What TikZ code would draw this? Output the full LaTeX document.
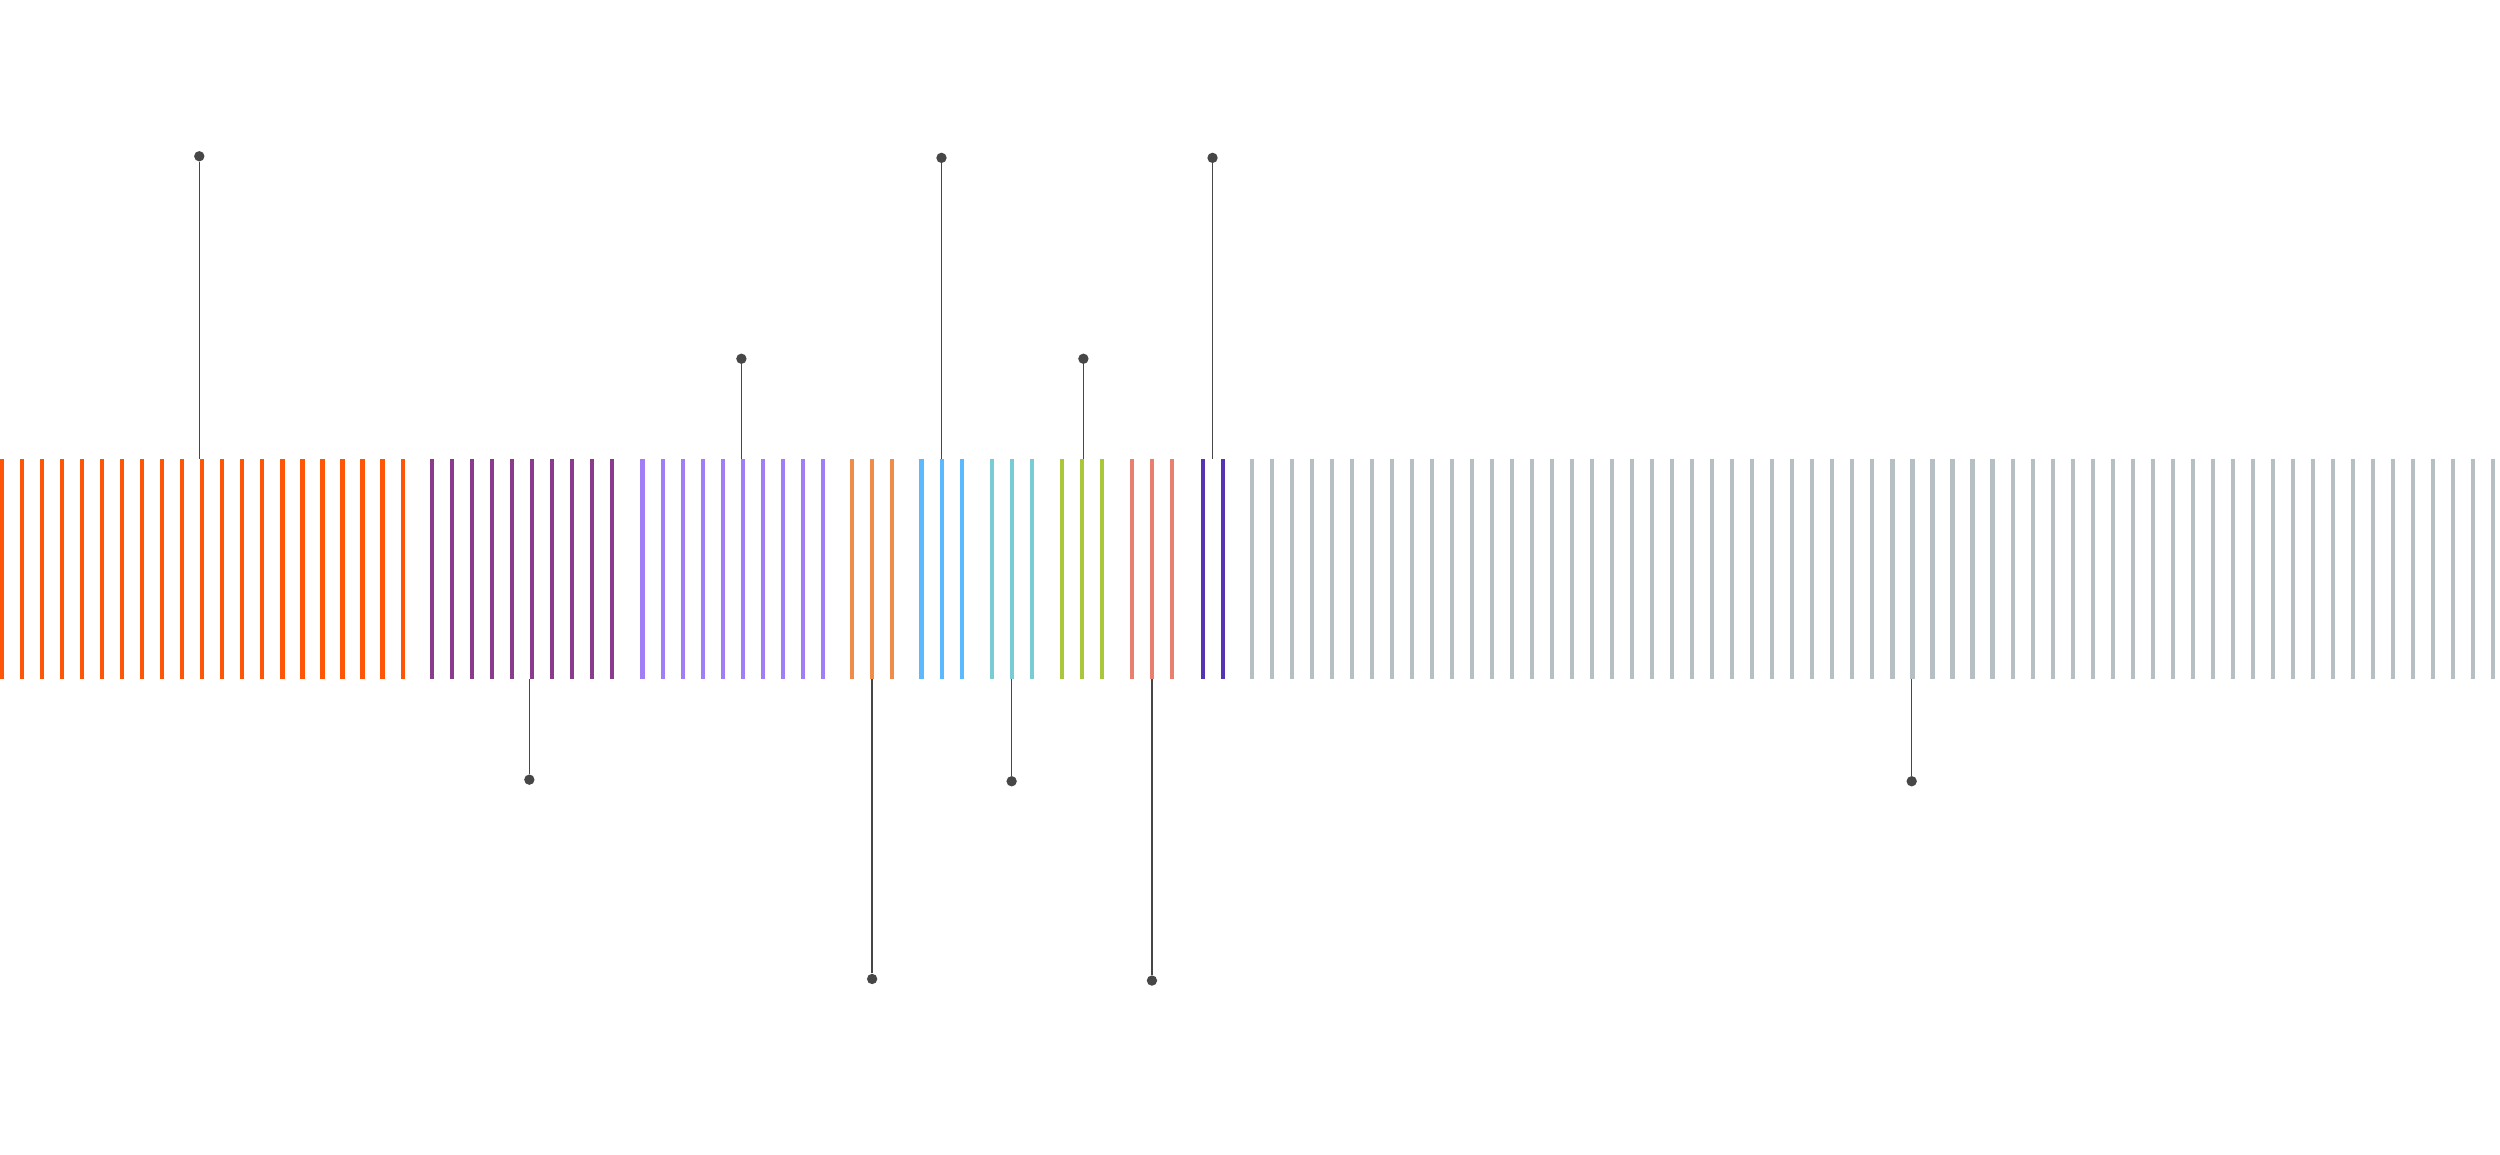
\documentclass[tikz,border=0pt]{standalone}
\begin{document}
\begin{tikzpicture}[x=1pt,y=-1pt,
 bar/.style={line width=2.6pt},
 pin/.style={draw=black!72,line width=1pt},
 dot/.style={circle,fill=black!72,inner sep=0pt,minimum size=6.5pt}]
\useasboundingbox (0,0) rectangle (1568,723.8);
\definecolor{c1}{HTML}{FF5507}\definecolor{c2}{HTML}{8A3B8C}
\definecolor{c3}{HTML}{A17EF6}\definecolor{c4}{HTML}{F08C4A}
\definecolor{c5}{HTML}{5AB9FF}\definecolor{c6}{HTML}{79CCD4}
\definecolor{c7}{HTML}{A8C83A}\definecolor{c8}{HTML}{E9806F}
\definecolor{c9}{HTML}{5533B2}\definecolor{c10}{HTML}{B5BFC4}
\foreach \s/\n/\c in {1.3/21/c1,271/10/c2,403/10/c3,534.5/3/c4,578/3/c5,622/3/c6,666/3/c7,710/3/c8,754.5/2/c9,785/63/c10}{
  \pgfmathtruncatemacro\m{\n-1}
  \foreach \i in {0,...,\m}{\draw[bar,\c] ({\s+12.56*\i},288) -- ({\s+12.56*\i},426);}
}
\foreach \k/\x/\y/\b in {a/125/98/288,b/332/489/426,c/465/225/288,d/547/614/426,e/590.5/99/288,f/634.5/490/426,g/679.5/225/288,h/722.5/615/426,i/760.5/99/288,j/1199/490/426}{
  \node[dot] (\k) at (\x,\y) {};
  \coordinate (\k0) at (\x,\b);
  \draw[pin] (\k) -- (\k0);
}
\end{tikzpicture}
\end{document}
